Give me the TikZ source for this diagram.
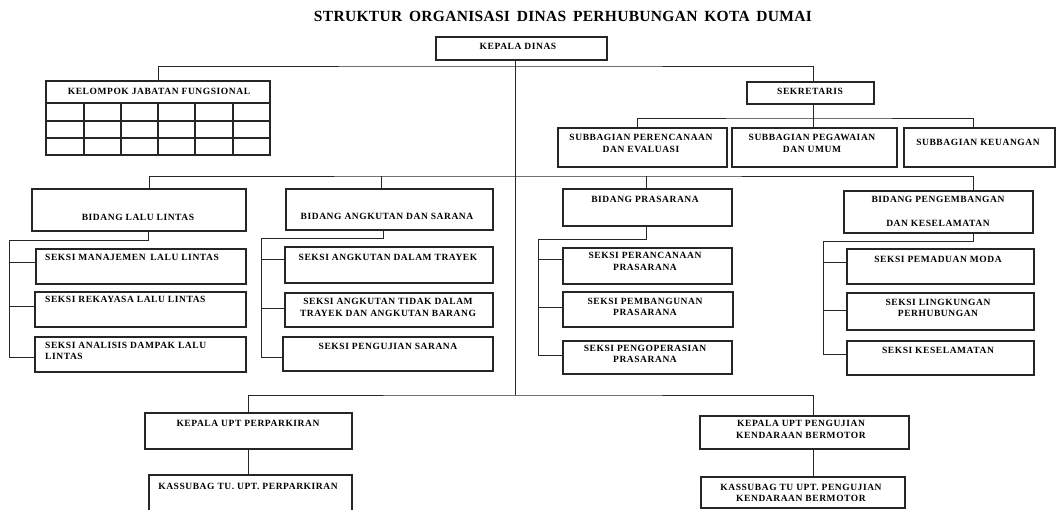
\documentclass[tikz,border=0pt]{standalone}
\usepackage{fontspec}
\setmainfont[LetterSpace=6]{Liberation Serif}
\newfontfamily\judulfont[LetterSpace=2]{Liberation Serif}
\usepackage{tikz}

\begin{document}
\begin{tikzpicture}[x=1pt,y=-1pt,
		kotak/.style={draw=black!85, line width=1.3pt, inner sep=0pt},
		garis/.style={draw=black!85, line width=1pt},
		teks/.style={font=\bfseries\fontsize{9.5}{11.5}\selectfont, inner sep=0pt, align=center},
		judul/.style={font=\judulfont\bfseries\fontsize{15.5}{18}\selectfont, inner sep=0pt}]
		\useasboundingbox (0,0) rectangle (1057,509);
		
		\node[judul] (title) at (563,16) {STRUKTUR\, ORGANISASI\, DINAS\, PERHUBUNGAN\, KOTA\, DUMAI};
		
		% kepala dinas, sekretaris, kelompok jabatan
		\node[kotak, minimum width=171, minimum height=23] (kadis) at (521.5,48.5) {};
		\node[teks] (tkadis) at (518,46) {KEPALA DINAS};
		\node[kotak, minimum width=224, minimum height=74] (kjf) at (158,118) {};
		\node[teks] (tkjf) at (159,91) {KELOMPOK JABATAN FUNGSIONAL};
		\foreach \y in {103,121,138}
			\draw[kotak] (46,\y) -- (270,\y);
		\foreach \x in {84,121,158,195,233}
			\draw[kotak] (\x,103) -- (\x,155);
		\node[kotak, minimum width=127, minimum height=22] (sek) at (810.5,93) {};
		\node[teks] (tsek) at (810,91) {SEKRETARIS};
		
		\node[kotak, minimum width=169, minimum height=39] (sp) at (642.5,147.5) {};
		\node[teks] (tsp) at (641,143.5) {SUBBAGIAN PERENCANAAN\\DAN EVALUASI};
		\node[kotak, minimum width=165, minimum height=39] (pu) at (814.5,147.5) {};
		\node[teks] (tpu) at (812,143.5) {SUBBAGIAN PEGAWAIAN\\DAN UMUM};
		\node[kotak, minimum width=151, minimum height=39] (keu) at (979.5,147.5) {};
		\node[teks] (tkeu) at (978,142) {SUBBAGIAN KEUANGAN};
		
		% bidang
		\node[kotak, minimum width=214, minimum height=42] (bll) at (139,210) {};
		\node[teks] (tbll) at (138,217) {BIDANG LALU LINTAS};
		\node[kotak, minimum width=207, minimum height=41] (bas) at (389.5,209.5) {};
		\node[teks] (tbas) at (387,216) {BIDANG ANGKUTAN DAN SARANA};
		\node[kotak, minimum width=169, minimum height=37] (bp) at (647.5,207.5) {};
		\node[teks] (tbp) at (645,199) {BIDANG PRASARANA};
		\node[kotak, minimum width=189, minimum height=42] (bpk) at (938.5,212) {};
		\node[teks] (tbpk) at (938,211) {BIDANG PENGEMBANGAN\\[12.5pt]DAN KESELAMATAN};
		
		% seksi
		\node[kotak, minimum width=210, minimum height=35] (sml) at (141,266.5) {};
		\node[teks, anchor=west] (tsml) at (45,257) {SEKSI MANAJEMEN\, LALU LINTAS};
		\node[kotak, minimum width=211, minimum height=35] (srl) at (140.5,309.5) {};
		\node[teks, anchor=west] (tsrl) at (45,299) {SEKSI REKAYASA LALU LINTAS};
		\node[kotak, minimum width=211, minimum height=35] (sadll) at (140.5,354.5) {};
		\node[teks, anchor=west, align=left] (tsadll) at (45,351) {SEKSI ANALISIS DAMPAK LALU\\LINTAS};
		
		\node[kotak, minimum width=208, minimum height=36] (sadt) at (389,265) {};
		\node[teks] (tsadt) at (388,257) {SEKSI ANGKUTAN DALAM TRAYEK};
		\node[kotak, minimum width=208, minimum height=34] (satd) at (389,310) {};
		\node[teks] (tsatd) at (388,307.5) {SEKSI ANGKUTAN TIDAK DALAM\\TRAYEK DAN ANGKUTAN BARANG};
		\node[kotak, minimum width=210, minimum height=34] (sps) at (388,354) {};
		\node[teks] (tsps) at (388,346) {SEKSI PENGUJIAN SARANA};
		
		\node[kotak, minimum width=169, minimum height=36] (spp) at (647.5,266) {};
		\node[teks] (tspp) at (645,261.5) {SEKSI PERANCANAAN\\PRASARANA};
		\node[kotak, minimum width=170, minimum height=35] (spb) at (648,309.5) {};
		\node[teks] (tspb) at (645,307) {SEKSI PEMBANGUNAN\\PRASARANA};
		\node[kotak, minimum width=169, minimum height=33] (spo) at (647.5,357.5) {};
		\node[teks] (tspo) at (645,354) {SEKSI PENGOPERASIAN\\PRASARANA};
		
		\node[kotak, minimum width=187, minimum height=35] (spm) at (940.5,266.5) {};
		\node[teks] (tspm) at (938,259) {SEKSI PEMADUAN MODA};
		\node[kotak, minimum width=187, minimum height=37] (slp) at (940.5,311.5) {};
		\node[teks] (tslp) at (938,308) {SEKSI LINGKUNGAN\\PERHUBUNGAN};
		\node[kotak, minimum width=187, minimum height=34] (sk) at (940.5,358) {};
		\node[teks] (tsk) at (938,350) {SEKSI KESELAMATAN};
		
		% upt
		\node[kotak, minimum width=207, minimum height=36] (kup) at (248.5,431) {};
		\node[teks] (tkup) at (248,423) {KEPALA UPT PERPARKIRAN};
		\node[kotak, minimum width=203, minimum height=40] (ktu) at (250.5,495) {};
		\node[teks] (tktu) at (248,486) {KASSUBAG TU. UPT. PERPARKIRAN};
		\node[kotak, minimum width=209, minimum height=33] (kupk) at (804.5,432.5) {};
		\node[teks] (tkupk) at (801,429.5) {KEPALA UPT PENGUJIAN\\KENDARAAN BERMOTOR};
		\node[kotak, minimum width=204, minimum height=31] (ktupk) at (803,492.5) {};
		\node[teks] (tktupk) at (801,493) {KASSUBAG TU UPT. PENGUJIAN\\KENDARAAN BERMOTOR};
		
		% garis
		\coordinate (tk) at (515,395);
		\coordinate (busA) at (515,66);
		\coordinate (busB) at (813,118);
		\coordinate (busC) at (515,176);
		\coordinate (ll) at (9,240);
		\coordinate (as) at (261,238);
		\coordinate (pr) at (538,239);
		\coordinate (pk) at (823,241);
		
		\draw[garis] (kadis.south -| tk) -- (tk);
		\draw[garis] (kjf.north) |- (busA) -| ([xshift=2.5]sek.north);
		\draw[garis] ([xshift=2.5]sek.south) -- ([xshift=-1.5]pu.north);
		\draw[garis] ([xshift=-5.5]sp.north) |- (busB) -| ([xshift=-6.5]keu.north);
		\draw[garis] ([xshift=10]bll.north) |- (busC) -| ([xshift=34.5]bpk.north);
		\draw[garis] ([xshift=-8.5]bas.north) -- ([xshift=-8.5]bas.north |- busC);
		\draw[garis] ([xshift=-1.5]bp.north) -- ([xshift=-1.5]bp.north |- busC);
		
		\draw[garis] ([xshift=9]bll.south) |- (ll);
		\draw[garis] (ll) |- ([yshift=4.5]sml.west);
		\draw[garis] (ll) |- ([yshift=3.5]srl.west);
		\draw[garis] (ll) |- ([yshift=-2.5]sadll.west);
		\draw[garis] ([xshift=-6.5]bas.south) |- (as);
		\draw[garis] (as) |- ([yshift=6]sadt.west);
		\draw[garis] (as) |- ([yshift=2]satd.west);
		\draw[garis] (as) |- ([yshift=-3]sps.west);
		\draw[garis] ([xshift=-1.5]bp.south) |- (pr);
		\draw[garis] (pr) |- ([yshift=7]spp.west);
		\draw[garis] (pr) |- ([yshift=2.5]spb.west);
		\draw[garis] (pr) |- ([yshift=2.5]spo.west);
		\draw[garis] ([xshift=34.5]bpk.south) |- (pk);
		\draw[garis] (pk) |- ([yshift=4.5]spm.west);
		\draw[garis] (pk) |- ([yshift=1.5]slp.west);
		\draw[garis] (pk) |- ([yshift=4]sk.west);
		
		\draw[garis] (kup.north) |- (tk) -| ([xshift=8.5]kupk.north);
		\draw[garis] (kup.south) -- (kup.south |- ktu.north);
		\draw[garis] ([xshift=8.5]kupk.south) -- ([xshift=10]ktupk.north);
	\end{tikzpicture}
\end{document}
